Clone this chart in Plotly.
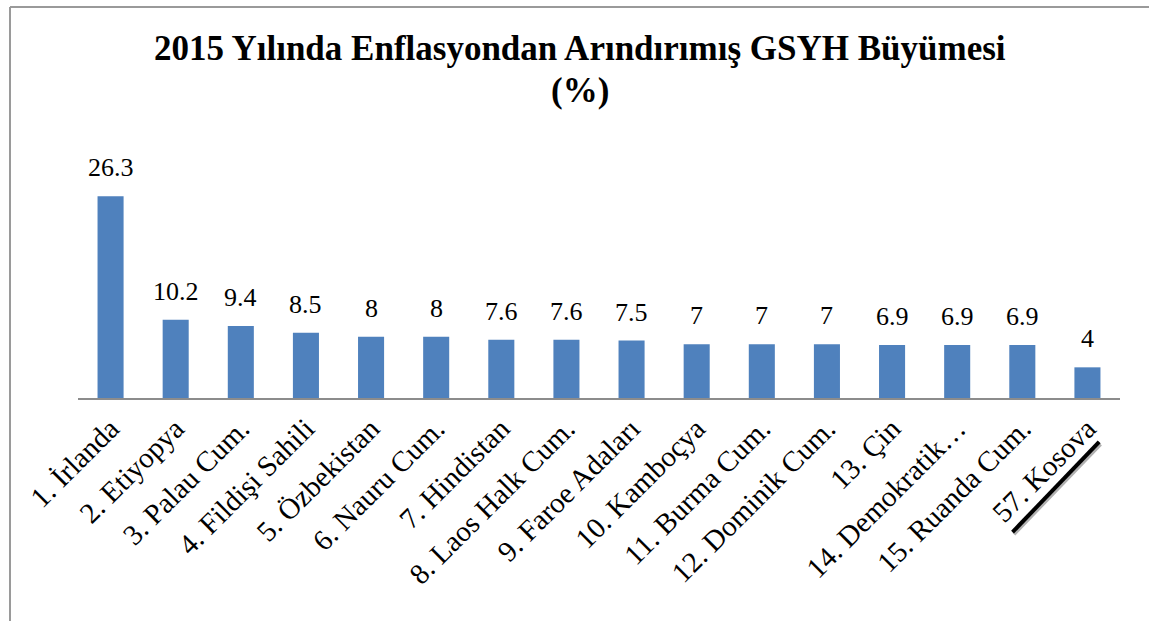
import plotly.graph_objects as go

categories = ["1. İrlanda", "2. Etiyopya", "3. Palau Cum.", "4. Fildişi Sahili",
              "5. Özbekistan", "6. Nauru Cum.", "7. Hindistan", "8. Laos Halk Cum.",
              "9. Faroe Adaları", "10. Kamboçya", "11. Burma Cum.", "12. Dominik Cum.",
              "13. Çin", "14. Demokratik…", "15. Ruanda Cum.", "57. Kosova"]
values = [26.3, 10.2, 9.4, 8.5, 8, 8, 7.6, 7.6, 7.5, 7, 7, 7, 6.9, 6.9, 6.9, 4]
value_labels = ["26.3", "10.2", "9.4", "8.5", "8", "8", "7.6", "7.6", "7.5",
                "7", "7", "7", "6.9", "6.9", "6.9", "4"]
title_lines = ["2015 Yılında Enflasyondan Arındırımış GSYH Büyümesi", "(%)"]

SERIF = "Liberation Serif"

fig = go.Figure()
fig.add_trace(go.Bar(
    x=categories, y=values,
    marker=dict(color="#4F81BD", line=dict(width=0)),
    hoverinfo="x+y",
))

annotations = []
for c, v, t in zip(categories, values, value_labels):
    annotations.append(dict(
        x=c, y=v, xref="x", yref="y", text=t, showarrow=False,
        yanchor="bottom", yshift=12,
        font=dict(family=SERIF, size=26, color="black"),
    ))

# title (two centred bold lines)
for line, ypos in zip(title_lines, [1.520, 1.335]):
    annotations.append(dict(
        x=0.482, y=ypos, xref="paper", yref="paper", text="<b>" + line + "</b>",
        showarrow=False, xanchor="center", yanchor="middle",
        font=dict(family=SERIF, size=35, color="black"),
    ))

fig.update_layout(
    width=1149, height=621,
    margin=dict(l=78, r=29, t=168, b=223, autoexpand=False),
    paper_bgcolor="white", plot_bgcolor="white",
    bargap=0.6,
    showlegend=False,
    xaxis=dict(
        type="category",
        tickangle=-45,
        tickfont=dict(family=SERIF, size=29, color="black"),
        showline=True, linecolor="#8c8c8c", linewidth=2,
        ticks="", showgrid=False, automargin=False,
    ),
    yaxis=dict(
        range=[0, 30], visible=False, showgrid=False, zeroline=False,
    ),
    annotations=annotations,
    shapes=[
        # chart border (left and top edges visible)
        dict(type="line", xref="paper", yref="paper",
             x0=(10 - 78) / 1042, x1=1.05, y0=(398 - 7) / 230, y1=(398 - 7) / 230,
             line=dict(color="#9a9a9a", width=2)),
        dict(type="line", xref="paper", yref="paper",
             x0=(10 - 78) / 1042, x1=(10 - 78) / 1042, y0=(398 - 7) / 230, y1=-1.2,
             line=dict(color="#9a9a9a", width=2)),
        # underline shadow and underline for 57. Kosova
        dict(type="line", xref="x", yref="paper",
             x0=13.87, x1=15.20, y0=-0.592, y1=-0.200,
             line=dict(color="#b0b0b0", width=4)),
        dict(type="line", xref="x", yref="paper",
             x0=13.85, x1=15.18, y0=-0.583, y1=-0.191,
             line=dict(color="black", width=4)),
    ],
)

fig.write_html("out.html", config={"displayModeBar": False},
               post_script="document.body.style.margin='0';")
